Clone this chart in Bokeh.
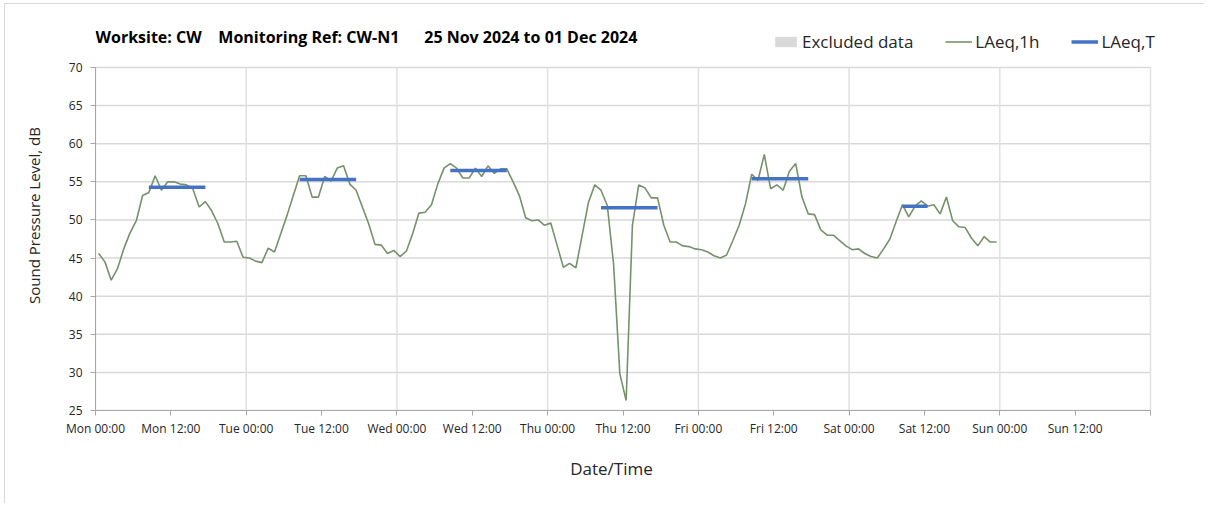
from bokeh.plotting import figure
from bokeh.models import FixedTicker, Legend, LegendItem, Label
from bokeh.embed import file_html
from bokeh.resources import INLINE

# Hourly LAeq,1h values (dB), Mon 00:00 onward, one per hour
laeq_1h = [
    45.6, 44.5, 42.1, 43.6, 46.2, 48.3, 49.9, 53.2, 53.6, 55.8, 53.9, 55.0,
    55.0, 54.7, 54.6, 54.1, 51.7, 52.4, 51.2, 49.5, 47.1, 47.1, 47.2, 45.1,
    45.0, 44.6, 44.4, 46.3, 45.8, 48.2, 50.6, 53.2, 55.8, 55.8, 53.0, 53.0,
    55.7, 55.1, 56.8, 57.1, 54.7, 53.9, 51.7, 49.5, 46.8, 46.7, 45.6, 46.0,
    45.2, 45.9, 48.2, 50.9, 51.0, 52.0, 54.7, 56.8, 57.4, 56.8, 55.5, 55.5,
    56.8, 55.7, 57.1, 56.1, 56.7, 56.7, 55.0, 53.2, 50.3, 49.9, 50.0, 49.3,
    49.6, 46.7, 43.8, 44.3, 43.7, 48.0, 52.3, 54.6, 53.9, 51.9, 44.2, 29.8,
    26.3, 49.3, 54.6, 54.2, 52.9, 52.9, 49.3, 47.1, 47.1, 46.6, 46.5, 46.2,
    46.1, 45.8, 45.3, 45.0, 45.4, 47.3, 49.3, 52.1, 56.0, 55.2, 58.6, 54.1,
    54.6, 53.9, 56.4, 57.4, 53.0, 50.8, 50.7, 48.7, 48.0, 48.0, 47.3, 46.6,
    46.1, 46.2, 45.6, 45.2, 45.0, 46.2, 47.5, 49.8, 52.0, 50.4, 51.8, 52.5,
    51.8, 52.0, 50.8, 53.0, 49.9, 49.1, 49.0, 47.6, 46.6, 47.8, 47.1, 47.1,
]
# each hourly value plotted at the middle of its hour
hours = [i + 0.5 for i in range(len(laeq_1h))]

# LAeq,T assessment periods (hour since Mon 00:00) and values
period_start = [8, 32, 56, 80, 104, 128]
period_end = [18, 42, 66, 90, 114, 133]
laeq_t = [54.3, 55.3, 56.5, 51.6, 55.4, 51.8]

# excluded-data periods: none in this week (NaN placeholder keeps legend entry)
excluded_start = [float("nan")]
excluded_end = [float("nan")]

tick_hours = list(range(0, 169, 12))
tick_labels = ["Mon 00:00", "Mon 12:00", "Tue 00:00", "Tue 12:00", "Wed 00:00",
               "Wed 12:00", "Thu 00:00", "Thu 12:00", "Fri 00:00", "Fri 12:00",
               "Sat 00:00", "Sat 12:00", "Sun 00:00", "Sun 12:00", ""]
grid_hours = list(range(0, 169, 24))
y_ticks = list(range(25, 71, 5))

FONT = "Open Sans"
NB = "\u00a0"
title_text = ("Worksite: CW" + NB * 4 + "Monitoring Ref: CW-N1" + NB * 6
              + "25 Nov 2024 to 01 Dec 2024")

Y_MIN, Y_MAX = y_ticks[0], y_ticks[-1]
X_MIN, X_MAX = tick_hours[0], tick_hours[-1]
# frame extends above / right of the axes box to host the title and legend
Y_TOP = Y_MAX + 47 * (Y_MAX - Y_MIN) / 343.0
X_RIGHT = X_MAX + 30 * (X_MAX - X_MIN) / 1055.0

p = figure(width=1200, height=500, x_range=(X_MIN, X_RIGHT),
           y_range=(Y_MIN, Y_TOP),
           output_backend="svg", toolbar_location=None,
           min_border_left=90, min_border_right=25,
           min_border_top=16, min_border_bottom=94)
p.styles = {"margin-left": "4px", "margin-top": "3px",
            "border-left": "1px solid #d9d9d9", "border-top": "1px solid #d9d9d9"}

p.outline_line_color = None
p.background_fill_color = "white"
p.border_fill_color = "white"

# grids (drawn as segments so they stay inside the axes box)
p.xgrid.visible = False
p.ygrid.visible = False
p.segment(x0=[X_MIN] * len(y_ticks), y0=y_ticks,
          x1=[X_MAX] * len(y_ticks), y1=y_ticks,
          line_color="#d9d9d9", line_width=1.5)
p.segment(x0=grid_hours, y0=[Y_MIN] * len(grid_hours),
          x1=grid_hours, y1=[Y_MAX] * len(grid_hours),
          line_color="#e0e0e0", line_width=1.5)

# axes
p.xaxis.ticker = FixedTicker(ticks=tick_hours)
p.xaxis.major_label_overrides = {h: lab for h, lab in zip(tick_hours, tick_labels)}
p.xaxis.bounds = (X_MIN, X_MAX)
p.yaxis.ticker = FixedTicker(ticks=y_ticks)
p.yaxis.bounds = (Y_MIN, Y_MAX)
for ax in (p.xaxis[0], p.yaxis[0]):
    ax.axis_line_color = "#a6a6a6"
    ax.major_tick_line_color = "#a6a6a6"
    ax.major_tick_out = 5
    ax.major_tick_in = 0
    ax.minor_tick_line_color = None
    ax.major_label_text_font = FONT
    ax.major_label_text_font_size = "12px"
    ax.major_label_text_color = "#262626"
    ax.axis_label_text_font = FONT
    ax.axis_label_text_font_size = "15px"
    ax.axis_label_text_font_style = "normal"
    ax.axis_label_text_color = "#262626"
# trailing no-break spaces centre the visible title under the axes box
p.xaxis.axis_label = "Date/Time" + NB * 12
p.xaxis.axis_label_text_font_size = "17px"
p.xaxis.major_label_standoff = 4
p.xaxis.axis_label_standoff = 17
p.yaxis.axis_label = "Sound Pressure Level, dB"
p.yaxis.major_label_standoff = 8
p.yaxis.axis_label_standoff = 22

r_excl = p.quad(left=excluded_start, right=excluded_end,
                top=[Y_MAX] * len(excluded_start),
                bottom=[Y_MIN] * len(excluded_start),
                fill_color="#d9d9d9", line_color=None)
r_1h = p.line(hours, laeq_1h, line_color="#76926a", line_width=1.6)
r_t = p.segment(x0=[s + 0.5 for s in period_start],
                y0=laeq_t,
                x1=[e - 0.5 for e in period_end],
                y1=laeq_t,
                line_color="#4472c4", line_width=3.5)

title = Label(x=X_MIN, y=Y_MAX + 31 * (Y_MAX - Y_MIN) / 343.0, text=title_text,
              text_font=FONT, text_font_size="16px", text_font_style="bold",
              text_color="#000000", text_baseline="middle", text_align="left")
p.add_layout(title)

legend = Legend(items=[LegendItem(label="Excluded data", renderers=[r_excl]),
                       LegendItem(label="LAeq,1h", renderers=[r_1h]),
                       LegendItem(label="LAeq,T", renderers=[r_t])],
                orientation="horizontal", location=(677, 357))
legend.background_fill_alpha = 0
legend.border_line_color = None
legend.padding = 0
legend.margin = 0
legend.spacing = 32
legend.label_standoff = 3
legend.glyph_width = 27
legend.glyph_height = 13
legend.label_text_font = FONT
legend.label_text_font_size = "17px"
legend.label_text_color = "#262626"
p.add_layout(legend, "center")

open("out.html", "w").write(file_html(p, INLINE))
